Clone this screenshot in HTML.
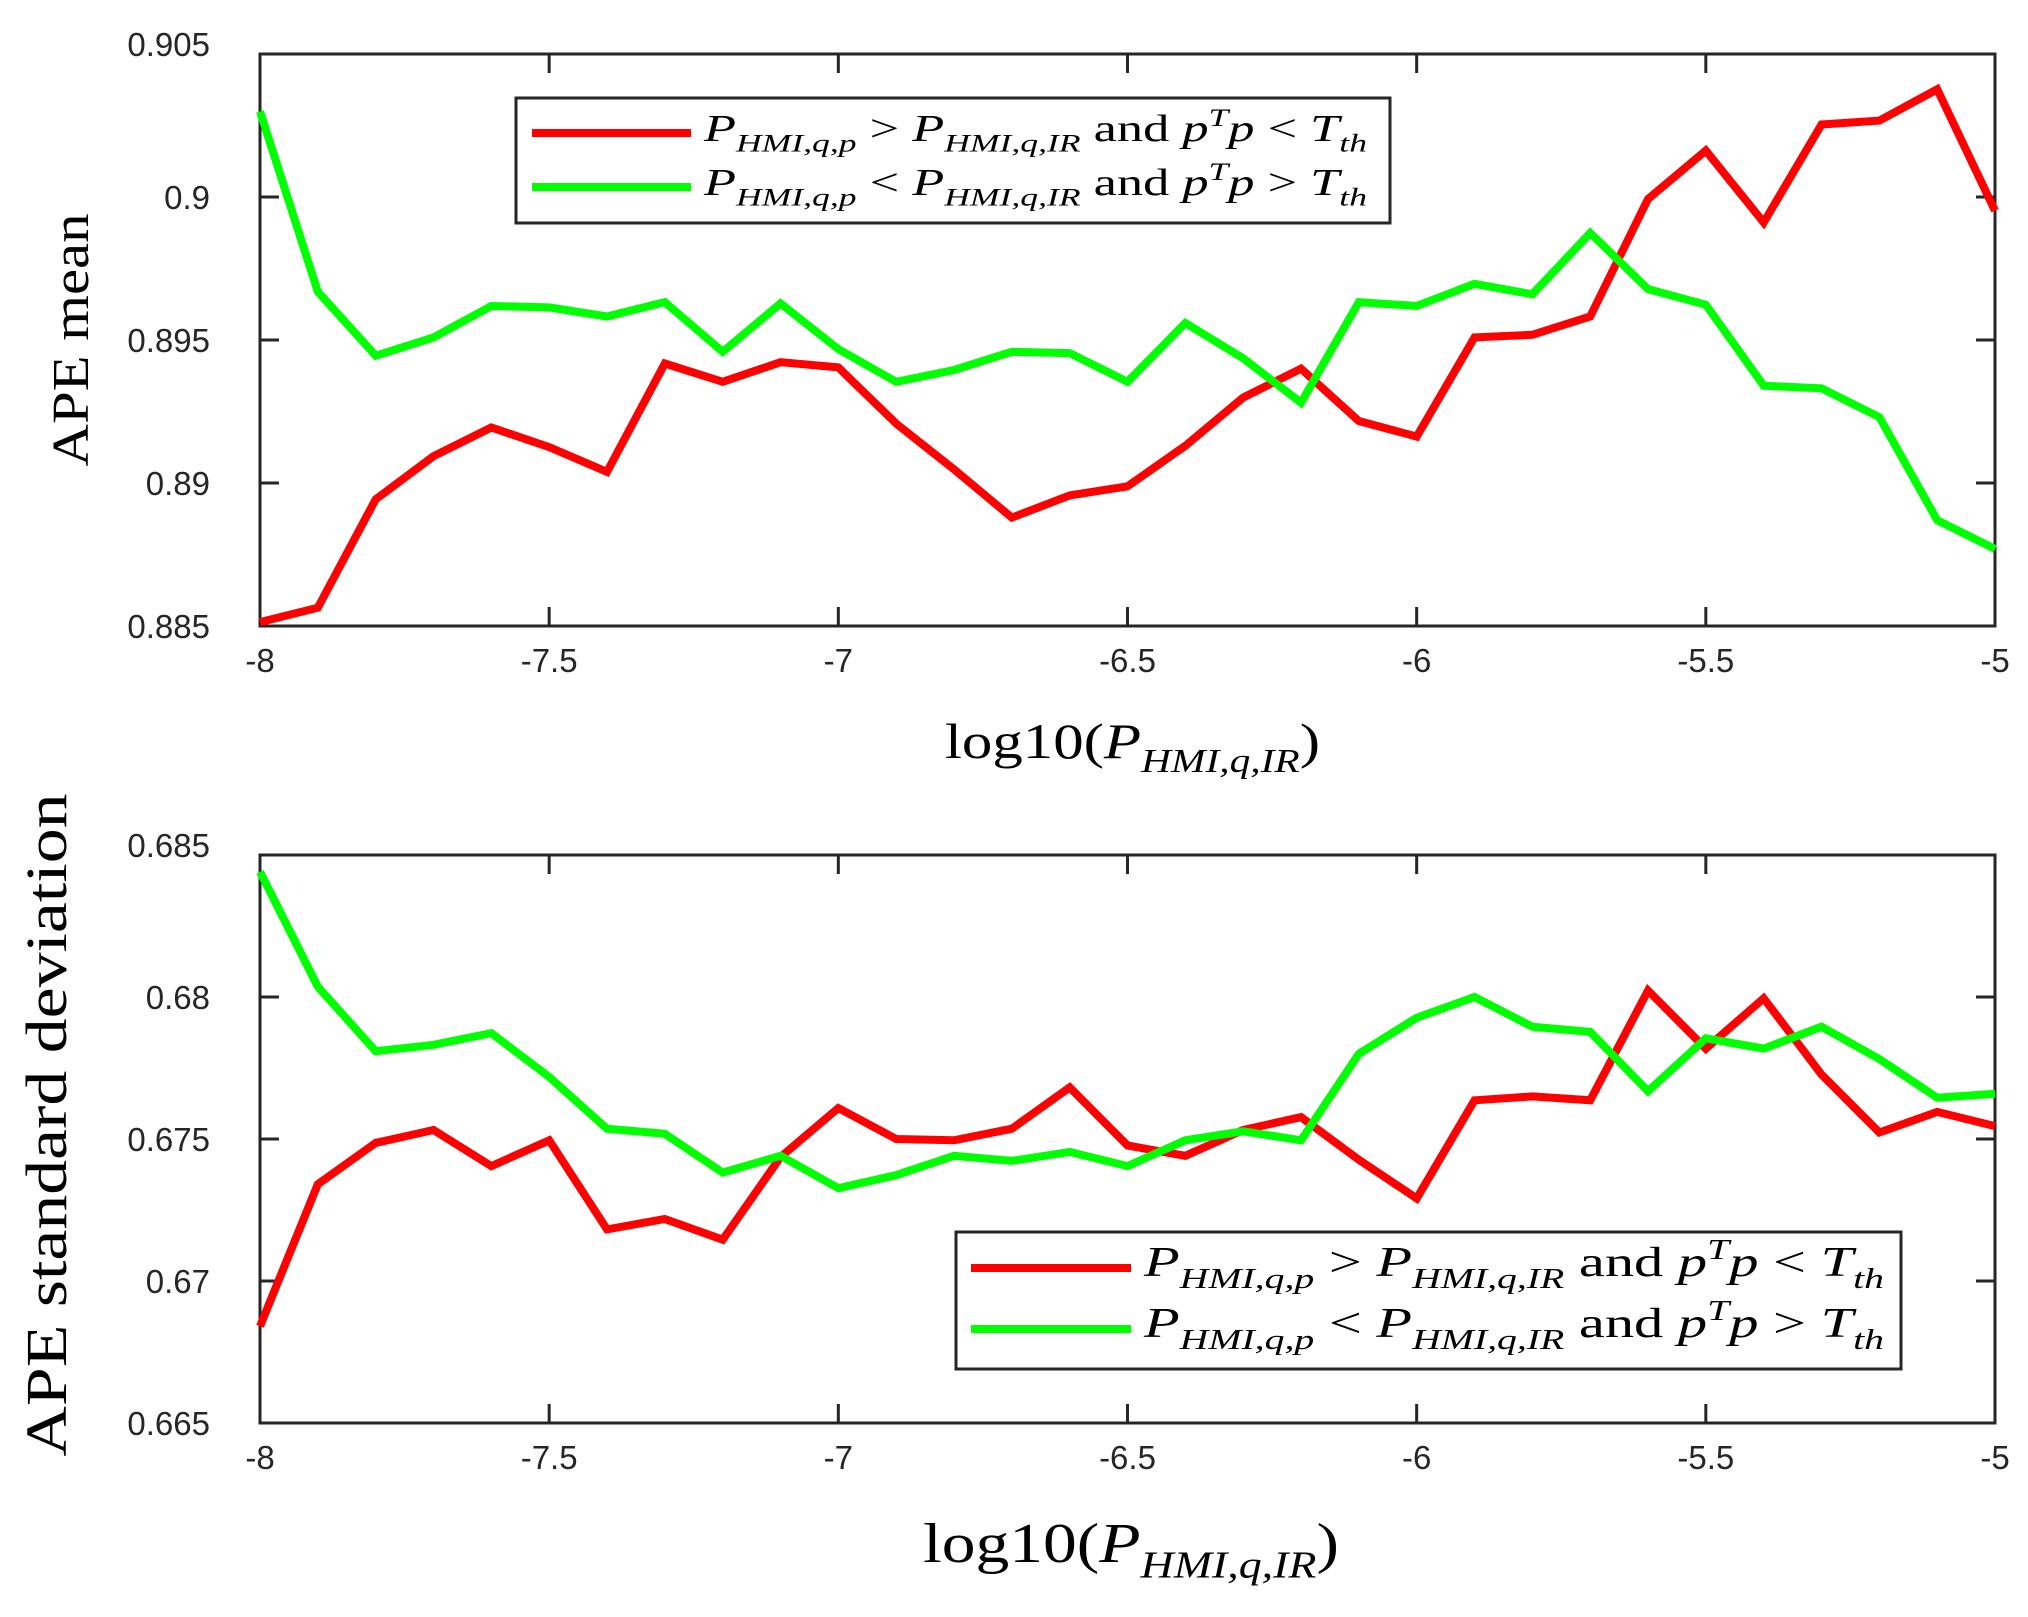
<!DOCTYPE html>
<html><head><meta charset="utf-8"><style>body{margin:0;background:#fff}svg{display:block}</style></head>
<body>
<svg id="s" xmlns="http://www.w3.org/2000/svg" width="2028" height="1617" viewBox="0 0 2028 1617"></svg>
<script>
const s=document.getElementById('s');let h='';
const L=260,R=1995;
function px(x){return L+(x+8)*(R-L)/3;}
function axes(T,B,labels){
  h+=`<rect x="${L}" y="${T}" width="${R-L}" height="${B-T}" fill="none" stroke="#262626" stroke-width="3"/>`;
  for(let i=0;i<=6;i++){const x=L+i*(R-L)/6;
    h+=`<line x1="${x}" y1="${B}" x2="${x}" y2="${B-19}" stroke="#262626" stroke-width="3"/><line x1="${x}" y1="${T}" x2="${x}" y2="${T+19}" stroke="#262626" stroke-width="3"/>`;
    const lab=['-8','-7.5','-7','-6.5','-6','-5.5','-5'][i];
    h+=`<text x="${x}" y="${B+46}" font-family="Liberation Sans, sans-serif" font-size="33" fill="#262626" text-anchor="middle">${lab}</text>`;}
  for(let i=0;i<=4;i++){const y=B-i*(B-T)/4;
    h+=`<line x1="${L}" y1="${y}" x2="${L+19}" y2="${y}" stroke="#262626" stroke-width="3"/><line x1="${R}" y1="${y}" x2="${R-19}" y2="${y}" stroke="#262626" stroke-width="3"/>`;
    h+=`<text x="210" y="${y-(i==4?-0:0)+(i==4?2:12)}" font-family="Liberation Sans, sans-serif" font-size="33" fill="#262626" text-anchor="end">${labels[i]}</text>`;}
}
function line(d,map,col){let p=d.map((v,i)=>`${px(-8+i*0.1).toFixed(1)},${map(v).toFixed(1)}`).join(' ');
  h+=`<polyline points="${p}" fill="none" stroke="${col}" stroke-width="8" stroke-linejoin="miter"/>`;}
const tr=[477,466,383,350,328,343,362,279,293,278,282,325,360,397,380,373,342,305,283,323,335,259,257,243,153,116,171,96,93,69,162];
const tg=[86,224,273,259,235,236,243,232,270,233,268,293,284,270,271,293,248,275,309,232,235,218,226,179,222,234,296,298,320,399,421];
const br=[1025,915,883,873,901,881,950,942,958,894,856,880,881,872,840,885,893,873,863,896,926,850,847,850,765,810,771,830,875,859,870];
const bg=[673,762,812,807,798,832,872,876,906,893,918,908,893,897,890,901,881,874,881,814,786,770,793,797,843,802,810,793,818,848,845];
const mt=d=>54+(d-42)*(572/438), mb=d=>855+(d-660)*(568/440);
axes(54,626,['0.885','0.89','0.895','0.9','0.905']);
axes(855,1423,['0.665','0.67','0.675','0.68','0.685']);
h+=`<svg x="0" y="0" width="2028" height="640" overflow="hidden"><g clip-path="none"></g></svg>`;
line(tr,mt,'#ff0000');line(tg,mt,'#00ff00');
line(br,mb,'#ff0000');line(bg,mb,'#00ff00');
function ltext(x,y,fs,op,op2,len){
  const sub=fs*0.68, dy=fs*0.28;
  return `<text x="${x}" y="${y}" font-family="Liberation Serif, serif" font-size="${fs}" fill="#000" textLength="${len}" lengthAdjust="spacingAndGlyphs"><tspan font-style="italic">P</tspan><tspan font-style="italic" font-size="${sub}" dy="${dy}">HMI,q,p</tspan><tspan dy="${-dy}"> ${op} </tspan><tspan font-style="italic">P</tspan><tspan font-style="italic" font-size="${sub}" dy="${dy}">HMI,q,IR</tspan><tspan dy="${-dy}"> and </tspan><tspan font-style="italic">p</tspan><tspan font-style="italic" font-size="${sub}" dy="${-fs*0.4}">T</tspan><tspan font-style="italic" dy="${fs*0.4}">p</tspan><tspan> ${op2} </tspan><tspan font-style="italic">T</tspan><tspan font-style="italic" font-size="${sub}" dy="${dy}">th</tspan></text>`;}
function legend(x1,y1,x2,y2,ly1,ly2,lx1,lx2,tx,tlen,fs){
  h+=`<rect x="${x1}" y="${y1}" width="${x2-x1}" height="${y2-y1}" fill="#fff" stroke="#262626" stroke-width="3"/>`;
  h+=`<line x1="${lx1}" y1="${ly1}" x2="${lx2}" y2="${ly1}" stroke="#ff0000" stroke-width="8"/>`;
  h+=`<line x1="${lx1}" y1="${ly2}" x2="${lx2}" y2="${ly2}" stroke="#00ff00" stroke-width="8"/>`;
  h+=ltext(tx,ly1+8,fs,'&gt;','&lt;',tlen);
  h+=ltext(tx,ly2+8,fs,'&lt;','&gt;',tlen);}
legend(516,98,1390,223,133,187,532,691,704,663,38);
legend(956,1232,1901,1369,1268,1329,971,1131,1144,740,42);
h+=`<text transform="translate(88,340) rotate(-90)" font-family="Liberation Serif, serif" font-size="52" fill="#000" text-anchor="middle" textLength="253" lengthAdjust="spacingAndGlyphs">APE mean</text>`;
h+=`<text transform="translate(66,1125) rotate(-90)" font-family="Liberation Serif, serif" font-size="58" fill="#000" text-anchor="middle" textLength="663" lengthAdjust="spacingAndGlyphs">APE standard deviation</text>`;
function xl(x,y,fs,len){return `<text x="${x}" y="${y}" font-family="Liberation Serif, serif" font-size="${fs}" fill="#000" textLength="${len}" lengthAdjust="spacingAndGlyphs">log10(<tspan font-style="italic">P</tspan><tspan font-style="italic" font-size="${fs*0.68}" dy="${fs*0.28}">HMI,q,IR</tspan><tspan dy="${-fs*0.28}">)</tspan></text>`;}
h+=xl(945,758,50,375);
h+=xl(923,1562,56,416);
s.innerHTML=h;
</script>
</body></html>
